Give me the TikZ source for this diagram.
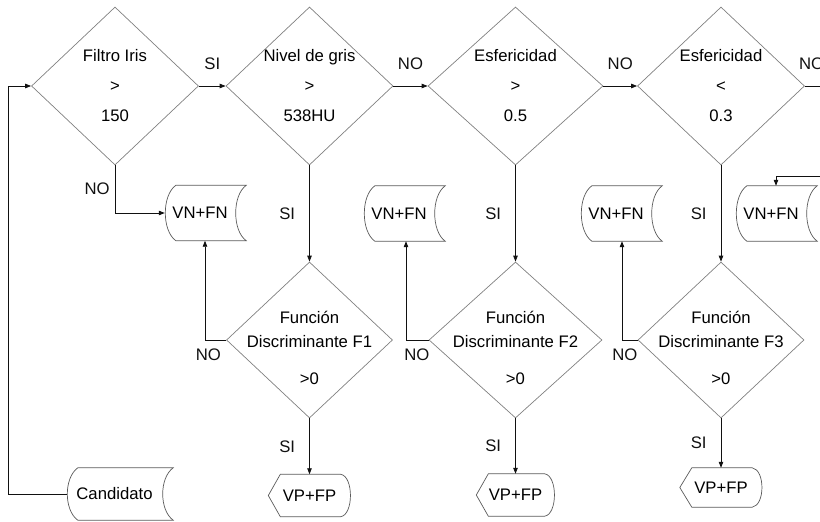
\documentclass[tikz,border=0pt]{standalone}
\usepackage{fontspec}
\setmainfont{Liberation Sans}
\usetikzlibrary{shapes.geometric,arrows.meta,calc}

\definecolor{edgegray}{HTML}{808080}
\definecolor{boxgray}{HTML}{5A5A5A}
\definecolor{ink}{HTML}{111111}

% outline of a "stored data" box: round left side, hollow right side
\newcommand\storeoutline[1]{%
  \draw[boxline] ($(#1.north west)+(11,0)$) -- ($(#1.north east)+(11,0)$)
    .. controls +(-14,10) and +(-14,-10) .. ($(#1.south east)+(11,0)$)
    -- ($(#1.south west)+(11,0)$)
    .. controls +(-14,-10) and +(-14,10) .. ($(#1.north west)+(11,0)$) -- cycle;}

% outline of a "display" box: pointed left end, rounded right end
\newcommand\displayoutline[1]{%
  \draw[boxline] (#1.west) -- ($(#1.north west)+(12,0)$) -- ($(#1.north east)+(-10,0)$)
    .. controls +(13,2) and +(13,-2) .. ($(#1.south east)+(-10,0)$)
    -- ($(#1.south west)+(12,0)$) -- cycle;}

\begin{document}
\begin{tikzpicture}[x=1pt,y=-1pt,
  font=\fontsize{16.7}{20}\selectfont,
  decision/.style={diamond, draw=edgegray, line width=0.7pt, inner sep=0pt,
    minimum width=#1, minimum height=158pt},
  test/.style={diamond, draw=edgegray, line width=0.7pt, inner sep=0pt,
    minimum width=#1, minimum height=156pt},
  toptext/.style={align=center, inner sep=0pt, font=\fontsize{16.7}{30}\selectfont},
  fntext/.style={align=center, inner sep=0pt, yshift=-8pt, font=\fontsize{16.7}{24}\selectfont},
  store/.style={minimum width=70pt, minimum height=55pt, inner sep=0pt},
  display/.style={minimum width=82pt, minimum height=42pt, inner sep=0pt},
  boxline/.style={draw=boxgray, line width=0.7pt},
  flow/.style={draw=ink, line width=0.8pt, -{Triangle[length=6pt,width=4.5pt]}},
  lbl/.style={inner sep=3pt, text=ink}]

\useasboundingbox (0,0) rectangle (820,522);
\clip (0,0) rectangle (820,522);

% top row of decisions
\node[decision=167pt, label={[toptext]center:Filtro Iris\\>\\150}] (d1) at (115,86) {};
\node[decision=167pt, label={[toptext]center:Nivel de gris\\>\\538HU}] (d2) at (309.5,86) {};
\node[decision=175pt, label={[toptext]center:Esfericidad\\>\\0.5}] (d3) at (515.5,86) {};
\node[decision=167pt, label={[toptext]center:Esfericidad\\<\\0.3}] (d4) at (721,86) {};

% discriminant functions
\node[test=166pt, label={[fntext]center:Función\\Discriminante F1\\[13pt]>0}] (f1) at (309.5,340) {};
\node[test=173pt, label={[fntext]center:Función\\Discriminante F2\\[13pt]>0}] (f2) at (515.5,340) {};
\node[test=166pt, label={[fntext]center:Función\\Discriminante F3\\[13pt]>0}] (f3) at (721,340) {};

% rejected candidates
\node[store] (vn1) at (200,213) {VN+FN};
\node[store] (vn2) at (399,213.5) {VN+FN};
\node[store] (vn3) at (616,213.5) {VN+FN};
\node[store] (vn4) at (771,213.5) {VN+FN};
\node[store, minimum width=95pt, minimum height=52pt] (cand) at (114.5,494) {Candidato};
\foreach \n in {vn1,vn2,vn3,vn4,cand} {\storeoutline{\n}}

% accepted detections
\node[display] (vp1) at (309.5,495.5) {VP+FP};
\node[display, minimum width=78pt] (vp2) at (515.5,495) {VP+FP};
\node[display, minimum height=39pt] (vp3) at (721,487.5) {VP+FP};
\foreach \n in {vp1,vp2,vp3} {\displayoutline{\n}}

% loose ends leaving the frame on the right
\coordinate (loopx) at (8,0);
\coordinate (out4) at (832,86);
\coordinate (in4) at (832,176);

% main chain
\draw[flow] (cand.west) -- (cand.west -| loopx) |- (d1.west);
\draw[flow] (d1.east) -- (d2.west) node[lbl, midway, above=13pt] (l12) {SI};
\draw[flow] (d2.east) -- (d3.west) node[lbl, midway, above=13pt] (l23) {NO};
\draw[flow] (d3.east) -- (d4.west) node[lbl, midway, above=13pt] (l34) {NO};
\draw[ink, line width=0.8pt] (d4.east) -- (out4) node[lbl, pos=0.25, above=13pt] (l4o) {NO};

% first filter rejects
\draw[flow] (d1.south) |- (vn1.west) node[lbl, pos=0.25, left=2pt] (l1n) {NO};

% decisions down to discriminant functions
\draw[flow] (d2.south) -- (f1.north) node[lbl, midway, left=11pt] (l2s) {SI};
\draw[flow] (d3.south) -- (f2.north) node[lbl, midway, left=11pt] (l3s) {SI};
\draw[flow] (d4.south) -- (f3.north) node[lbl, midway, left=11pt] (l4s) {SI};

% discriminant functions: rejected
\draw[flow] (f1.west) -| ([xshift=5pt]vn1.south);
\draw[flow] (f2.west) -| ([xshift=7pt]vn2.south);
\draw[flow] (f3.west) -| ([xshift=6pt]vn3.south);
\node[lbl, anchor=north east] (f1n) at ([xshift=-2pt,yshift=-6pt]f1.west) {NO};
\node[lbl, anchor=north east] (f2n) at ([xshift=4pt,yshift=-6pt]f2.west) {NO};
\node[lbl, anchor=north east] (f3n) at ([xshift=3pt,yshift=-6pt]f3.west) {NO};

% discriminant functions: accepted
\draw[flow] (f1.south) -- (vp1.north) node[lbl, midway, left=11pt] (f1s) {SI};
\draw[flow] (f2.south) -- (vp2.north) node[lbl, midway, left=11pt] (f2s) {SI};
\draw[flow] (f3.south) -- (vp3.north) node[lbl, midway, left=11pt] (f3s) {SI};

% feed into the last rejected box from the right
\draw[flow] (in4) -| ([xshift=5pt]vn4.north);

\end{tikzpicture}
\end{document}
